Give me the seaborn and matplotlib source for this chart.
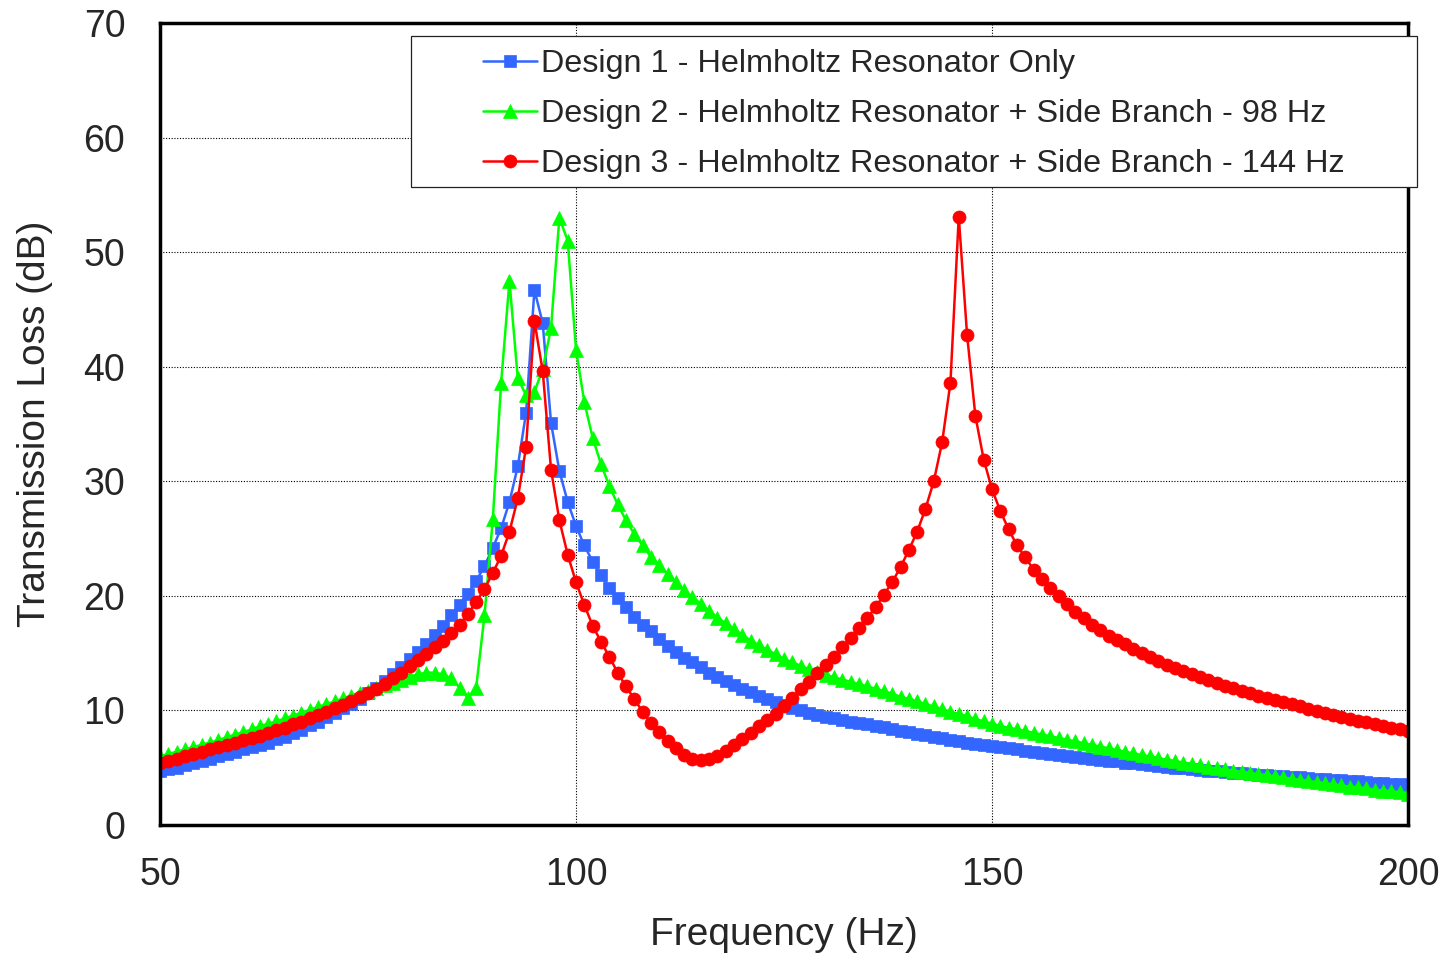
import numpy as np
import pandas as pd
import matplotlib.pyplot as plt
import matplotlib.patches as mpatches
import seaborn as sns

# Frequency axis (1 Hz steps) and transmission loss of each design
freq = list(range(50, 201))

design1_tl = [
    4.7, 4.9, 5.0, 5.2, 5.4, 5.6, 5.8, 6.0, 6.2, 6.4,
    6.6, 6.8, 7.0, 7.2, 7.5, 7.7, 8.0, 8.3, 8.7, 9.0,
    9.4, 9.8, 10.2, 10.6, 11.0, 11.5, 12.0, 12.6, 13.2, 13.8,
    14.5, 15.1, 15.8, 16.6, 17.4, 18.3, 19.2, 20.2, 21.3, 22.6,
    24.2, 25.9, 28.2, 31.3, 36.0, 46.7, 43.8, 35.1, 30.9, 28.2,
    26.1, 24.4, 23.0, 21.8, 20.7, 19.8, 19.0, 18.2, 17.5, 16.9,
    16.2, 15.6, 15.1, 14.6, 14.2, 13.75, 13.3, 12.9, 12.55, 12.2,
    11.9, 11.6, 11.3, 11.0, 10.75, 10.5, 10.25, 10.0, 9.8, 9.6,
    9.45, 9.3, 9.15, 9.0, 8.9, 8.8, 8.65, 8.55, 8.4, 8.25,
    8.1, 7.95, 7.85, 7.7, 7.6, 7.45, 7.35, 7.2, 7.1, 7.0,
    6.9, 6.8, 6.7, 6.6, 6.5, 6.4, 6.3, 6.2, 6.1, 6.0,
    5.95, 5.85, 5.8, 5.7, 5.6, 5.55, 5.45, 5.4, 5.3, 5.25,
    5.15, 5.1, 5.0, 4.95, 4.9, 4.8, 4.75, 4.7, 4.6, 4.55,
    4.5, 4.45, 4.4, 4.35, 4.3, 4.25, 4.2, 4.15, 4.1, 4.05,
    4.0, 3.95, 3.9, 3.85, 3.8, 3.75, 3.7, 3.65, 3.6, 3.55,
    3.5,
]

design2_tl = [
    6.0, 6.2, 6.4, 6.6, 6.8, 7.0, 7.2, 7.4, 7.65, 7.9,
    8.1, 8.35, 8.6, 8.85, 9.05, 9.3, 9.55, 9.8, 10.05, 10.3,
    10.55, 10.8, 11.05, 11.3, 11.5, 11.7, 11.95, 12.2, 12.4, 12.7,
    12.95, 13.15, 13.3, 13.3, 13.15, 12.8, 12.0, 11.1, 12.0, 18.3,
    26.7, 38.6, 47.5, 39.0, 37.5, 37.8, 39.8, 43.4, 53.0, 51.0,
    41.5, 36.9, 33.8, 31.5, 29.6, 28.0, 26.6, 25.4, 24.4, 23.4,
    22.7, 21.9, 21.2, 20.5, 19.9, 19.3, 18.7, 18.1, 17.6, 17.1,
    16.6, 16.1, 15.7, 15.3, 14.9, 14.5, 14.2, 13.9, 13.6, 13.35,
    13.1, 12.9, 12.7, 12.5, 12.3, 12.1, 11.9, 11.7, 11.45, 11.2,
    11.0, 10.8, 10.55, 10.35, 10.1, 9.9, 9.7, 9.5, 9.25, 9.05,
    8.85, 8.65, 8.5, 8.35, 8.2, 8.05, 7.9, 7.75, 7.6, 7.45,
    7.3, 7.15, 7.0, 6.85, 6.7, 6.55, 6.4, 6.25, 6.1, 6.0,
    5.85, 5.7, 5.6, 5.45, 5.35, 5.2, 5.05, 4.95, 4.85, 4.75,
    4.65, 4.55, 4.45, 4.35, 4.25, 4.15, 4.05, 3.95, 3.85, 3.75,
    3.65, 3.55, 3.45, 3.35, 3.3, 3.2, 3.1, 3.0, 2.95, 2.85,
    2.75,
]

design3_tl = [
    5.4, 5.6, 5.8, 6.0, 6.2, 6.4, 6.6, 6.8, 7.0, 7.2,
    7.4, 7.6, 7.8, 8.0, 8.3, 8.5, 8.8, 9.0, 9.3, 9.6,
    9.9, 10.2, 10.5, 10.8, 11.2, 11.5, 11.9, 12.3, 12.8, 13.3,
    13.9, 14.4, 14.9, 15.5, 16.1, 16.8, 17.5, 18.4, 19.5, 20.6,
    22.0, 23.5, 25.6, 28.5, 33.0, 44.0, 39.6, 31.0, 26.6, 23.6,
    21.2, 19.2, 17.4, 16.0, 14.7, 13.3, 12.1, 11.0, 9.9, 8.9,
    8.1, 7.3, 6.7, 6.1, 5.8, 5.7, 5.75, 6.0, 6.5, 7.0,
    7.5, 8.0, 8.6, 9.2, 9.7, 10.35, 11.1, 11.85, 12.5, 13.3,
    14.0, 14.7, 15.5, 16.3, 17.2, 18.05, 19.0, 20.1, 21.2, 22.5,
    24.0, 25.6, 27.6, 30.0, 33.4, 38.6, 53.1, 42.8, 35.7, 31.9,
    29.3, 27.4, 25.8, 24.4, 23.35, 22.3, 21.5, 20.7, 20.0, 19.3,
    18.6, 18.1, 17.5, 17.0, 16.5, 16.15, 15.8, 15.35, 15.0, 14.65,
    14.35, 14.0, 13.7, 13.45, 13.2, 12.9, 12.65, 12.4, 12.15, 11.95,
    11.7, 11.5, 11.3, 11.1, 10.9, 10.75, 10.55, 10.35, 10.15, 9.95,
    9.8, 9.6, 9.4, 9.25, 9.1, 8.95, 8.8, 8.65, 8.5, 8.35,
    8.2,
]

labels = [
    'Design 1 - Helmholtz Resonator Only',
    'Design 2 - Helmholtz Resonator + Side Branch - 98 Hz',
    'Design 3 - Helmholtz Resonator + Side Branch - 144 Hz',
]
colors = ['#3366FF', '#00FF00', '#FF0000']
markers = ['s', '^', 'o']
marker_sizes = [8.8, 10.2, 9.4]

sns.set_style('white')
plt.rcParams['font.family'] = ['Liberation Sans', 'DejaVu Sans']

fig = plt.figure(figsize=(14.44, 9.55), dpi=100)
ax = fig.add_axes([0.1108, 0.1361, 0.8643, 0.8398])

series = [design1_tl, design2_tl, design3_tl]
for vals, lab, col, mk, ms in zip(series, labels, colors, markers, marker_sizes):
    df = pd.DataFrame({'freq': freq, 'tl': vals})
    sns.lineplot(data=df, x='freq', y='tl', ax=ax, color=col, marker=mk,
                 markersize=ms, markeredgecolor=col, markeredgewidth=0.5,
                 linewidth=1.8, label=lab)

ax.set_xlim(50, 200)
ax.set_ylim(0, 70)
ax.set_xticks([50, 100, 150, 200])
ax.set_yticks(np.arange(0, 71, 10))
ax.grid(True, color='black', linestyle=(0, (1, 1.5)), linewidth=0.8)
ax.tick_params(axis='both', length=0, labelsize=27)
ax.tick_params(axis='x', pad=23)
ax.tick_params(axis='y', pad=25)
for s in ax.spines.values():
    s.set_visible(True)
    s.set_color('black')
    s.set_linewidth(2.5)

ax.set_xlabel('Frequency (Hz)', fontsize=28, labelpad=17)
ax.set_ylabel('Transmission Loss (dB)', fontsize=28, labelpad=22)

# legend: box drawn separately so it gets the wide side margins of the original
ax.add_patch(mpatches.Rectangle((0.2846, 0.8042), 0.6967, 0.1581,
                                transform=fig.transFigure, facecolor='white',
                                edgecolor='#222222', linewidth=0.9,
                                zorder=4, clip_on=False))
ax.legend(loc='center', bbox_to_anchor=(0.633, 0.8806),
          bbox_transform=fig.transFigure, frameon=False, fontsize=23.3,
          handlelength=1.65, handletextpad=0.15, labelspacing=0.62,
          borderpad=0)

fig.savefig('out.png', dpi=100)
